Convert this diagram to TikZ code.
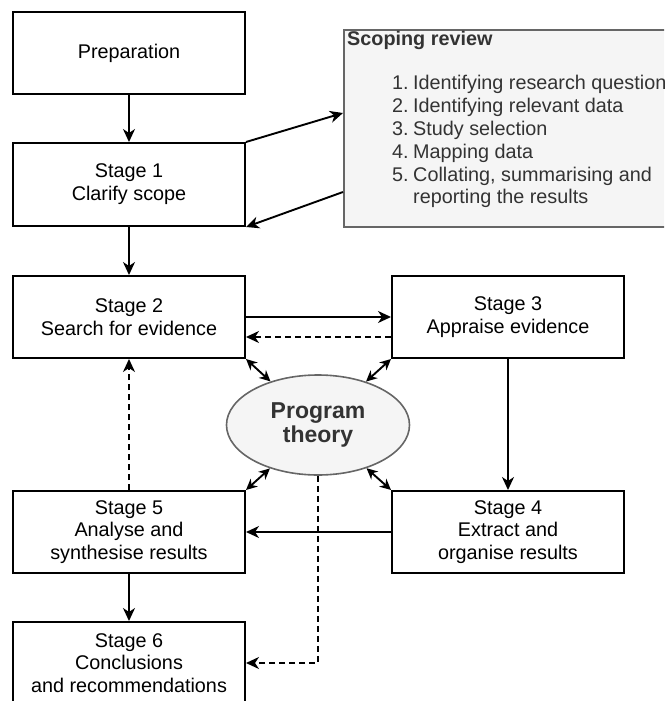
\documentclass[tikz,border=0pt]{standalone}
\usepackage{fontspec}
\setmainfont{Liberation Sans}
\usetikzlibrary{arrows.meta,shapes.geometric,calc}
\definecolor{boxgray}{HTML}{F5F5F5}
\definecolor{edgegray}{HTML}{666666}
\definecolor{txtgray}{HTML}{333333}
\begin{document}
\begin{tikzpicture}[x=1pt,y=-1pt,
  stagebox/.style={draw=black, line width=2pt, minimum width=232pt, minimum height=82pt,
    inner sep=0pt, align=center, font=\fontsize{19.8}{22.8}\selectfont},
  greybox/.style={draw=edgegray, fill=boxgray, line width=1.6pt, inner sep=0pt},
  listtxt/.style={anchor=base west, inner sep=0pt, text=txtgray, font=\fontsize{19.8}{23}\selectfont},
  arr/.style={line width=1.9pt, -{Stealth[length=13pt,width=12pt,inset=4pt]}},
  darr/.style={arr, dash pattern=on 6pt off 4pt},
  dbl/.style={line width=1.9pt, {Stealth[length=11pt,width=10.5pt,inset=3.5pt]}-{Stealth[length=11pt,width=10.5pt,inset=3.5pt]}}
]
\useasboundingbox (0,0) rectangle (664,701);
\clip (0,0) rectangle (664,701);

% stage boxes
\node[stagebox] (prep) at (129,53) {Preparation};
\node[stagebox, minimum height=83pt] (s1) at (129,184.5) {Stage 1\\Clarify scope};
\node[stagebox] (s2) at (129,317) {Stage 2\\Search for evidence};
\node[stagebox] (s3) at (508,317) {Stage 3\\Appraise evidence};
\node[stagebox] (s4) at (508,532) {Stage 4\\Extract and\\organise results};
\node[stagebox] (s5) at (129,532) {Stage 5\\Analyse and\\synthesise results};
\node[stagebox] (s6) at (129,663) {Stage 6\\Conclusions\\and recommendations};

% scoping review box
\node[greybox, minimum width=357pt, minimum height=197pt, anchor=north west] (scope) at (343,29) {};
\node[listtxt, font=\bfseries\fontsize{19.8}{23}\selectfont] (sh) at (347,45.5) {Scoping review};
\node[listtxt] (n1) at (392,89) {1.};
\node[listtxt] (t1) at (413,89) {Identifying research question};
\node[listtxt] (n2) at (392,112) {2.};
\node[listtxt] (t2) at (413,112) {Identifying relevant data};
\node[listtxt] (n3) at (392,135) {3.};
\node[listtxt] (t3) at (413,135) {Study selection};
\node[listtxt] (n4) at (392,158) {4.};
\node[listtxt] (t4) at (413,158) {Mapping data};
\node[listtxt] (n5) at (392,181) {5.};
\node[listtxt] (t5) at (413,181) {Collating, summarising and};
\node[listtxt] (t6) at (413,203.5) {reporting the results};

% program theory
\node[ellipse, greybox, minimum width=183pt, minimum height=100pt, align=center, text=txtgray,
  font=\bfseries\fontsize{23}{24}\selectfont] (pt) at (318,425) {Program\\theory};

% connectors
\coordinate (sin) at (343,113);
\coordinate (sout) at (343,192);
\draw[arr] (prep) -- (s1);
\draw[arr] (s1.north east) -- (sin);
\draw[arr] (sout) -- (s1.south east);
\draw[arr] (s1) -- (s2);
\draw[arr] (s2.east) -- (s3.west);
\draw[darr] ([yshift=-20pt]s3.west) -- ([yshift=-20pt]s2.east);
\draw[arr] (s3) -- (s4);
\draw[arr] (s4) -- (s5);
\draw[darr] (s5) -- (s2);
\draw[arr] (s5) -- (s6);
\draw[darr] (pt.south) |- (s6.east);
\draw[dbl] (s2.south east) -- (pt);
\draw[dbl] (s3.south west) -- (pt);
\draw[dbl] (s5.north east) -- (pt);
\draw[dbl] (s4.north west) -- (pt);
\end{tikzpicture}
\end{document}
